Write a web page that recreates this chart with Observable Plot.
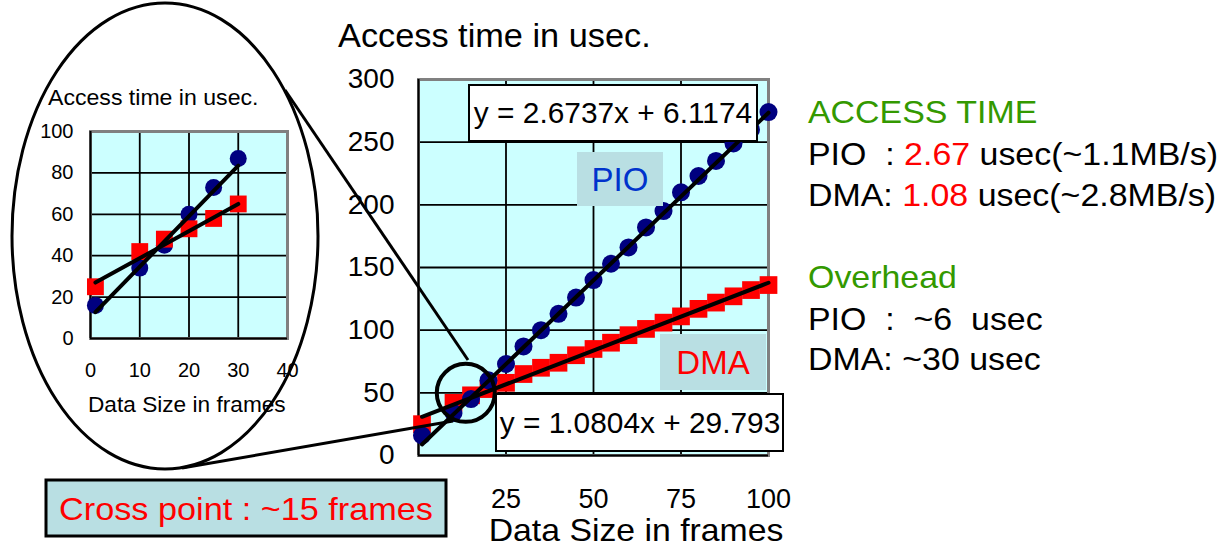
<!DOCTYPE html>
<html>
<head>
<meta charset="utf-8">
<script src="https://cdn.jsdelivr.net/npm/d3@7"></script>
<script src="https://cdn.jsdelivr.net/npm/@observablehq/plot@0.6"></script>
<style>
  html, body { margin: 0; padding: 0; background: #ffffff; }
  #root { position: relative; width: 1225px; height: 552px; overflow: hidden; background: #ffffff; font-family: "Liberation Sans", Arial, sans-serif; }
  #root > svg { position: absolute; left: 0; top: 0; }
</style>
</head>
<body>
<div id="root"></div>
<script>
// ---------------- data ----------------
const frames  = [1, 10, 15, 20, 25, 30, 35, 40, 45, 50, 55, 60, 65, 70, 75, 80, 85, 90, 95, 100];
const pioTime = [16, 34, 45, 60, 73, 87, 100, 113, 126, 140, 153, 166, 182, 195, 210, 223, 235, 249, 260, 274];
const dmaTime = [25, 42, 48, 53, 58, 65, 70, 74, 80, 85, 90, 96, 101, 106, 111, 117, 122, 127, 132, 136];

// fitted trend lines as printed on the chart
const pioFit = {slope: 2.6737, intercept: 6.1174};
const dmaFit = {slope: 1.0804, intercept: 29.793};
// trend lines drawn in the zoomed inset
const insetPioTrend = [[1, 12.7], [30, 83.5]];
const insetDmaTrend = [[1, 27], [30, 65]];

const mainXTicks = [25, 50, 75, 100];   // the 0 label is hidden behind the cross-point box
const mainXGrid = [25, 50, 75];
const mainYTicks = [0, 50, 100, 150, 200, 250, 300];
const insetXTicks = [0, 10, 20, 30, 40];
const insetYTicks = [0, 20, 40, 60, 80, 100];
const insetMaxFrames = 30;

const crossPoint = {frames: 13.5, time: 50};

const yTitle = "Access time in usec.";
const xTitle = "Data Size in frames";
const pioEq = "y = 2.6737x + 6.1174";
const dmaEq = "y = 1.0804x + 29.793";

// ---------------- styles ----------------
const FONT = "'Liberation Sans', Arial, sans-serif";
const BG = "#ccffff";
const PIO_COLOR = "#000080";
const DMA_COLOR = "#ff0000";
const GREEN = "#339900";
const LABEL_BOX = "#b9dfe3";

const pio = frames.map((f, i) => ({frames: f, time: pioTime[i]}));
const dma = frames.map((f, i) => ({frames: f, time: dmaTime[i]}));
const fitLine = (fit) => [frames[0], frames[frames.length - 1]].map(f => ({frames: f, time: fit.intercept + fit.slope * f}));
const toPts = (arr) => arr.map(([f, t]) => ({frames: f, time: t}));

const root = document.getElementById("root");

// ---------------- main chart ----------------
const main = Plot.plot({
  width: 1225, height: 552,
  marginLeft: 418, marginRight: 457, marginTop: 79, marginBottom: 97,
  style: {fontFamily: FONT, fontSize: "28px", color: "#000", background: "transparent", overflow: "visible"},
  x: {domain: [0, 100], ticks: mainXTicks, tickSize: 0, tickPadding: 33, label: null},
  y: {domain: [0, 300], ticks: mainYTicks, tickSize: 0, tickPadding: 24, label: null},
  marks: [
    Plot.frame({fill: BG}),
    Plot.ruleY(mainYTicks.filter(d => d > 0 && d < 300), {stroke: "#000", strokeWidth: 1.8}),
    Plot.ruleX(mainXGrid, {stroke: "#000", strokeWidth: 1.8}),
    Plot.frame({stroke: "#808080", strokeWidth: 3}),
    Plot.ruleX([0], {stroke: "#000", strokeWidth: 2}),
    Plot.ruleY([0], {stroke: "#000", strokeWidth: 2}),
    Plot.dot(dma, {x: "frames", y: "time", symbol: "square", r: 10, fill: DMA_COLOR}),
    Plot.dot(pio, {x: "frames", y: "time", r: 9, fill: PIO_COLOR}),
    Plot.line(fitLine(pioFit), {x: "frames", y: "time", stroke: "#000", strokeWidth: 4}),
    Plot.line(fitLine(dmaFit), {x: "frames", y: "time", stroke: "#000", strokeWidth: 4}),
    Plot.dot([crossPoint], {x: "frames", y: "time", r: 29, stroke: "#000", strokeWidth: 4, fill: "none"})
  ]
});
d3.select(main).selectAll("[aria-label='x-axis tick label'] text, g[aria-label='x-axis'] text").style("font-size", "27px");
root.appendChild(main);

// ---------------- inset (zoom) chart ----------------
const pioIn = pio.filter(d => d.frames <= insetMaxFrames);
const dmaIn = dma.filter(d => d.frames <= insetMaxFrames);
const inset = Plot.plot({
  width: 330, height: 430,
  marginLeft: 90, marginRight: 43, marginTop: 131, marginBottom: 92,
  style: {fontFamily: FONT, fontSize: "20px", color: "#000", background: "transparent", overflow: "visible"},
  x: {domain: [0, 40], ticks: insetXTicks, tickSize: 0, tickPadding: 24, label: null},
  y: {domain: [0, 100], ticks: insetYTicks, tickSize: 0, tickPadding: 17, label: null},
  marks: [
    Plot.frame({fill: BG}),
    Plot.ruleY(insetYTicks.filter(d => d > 0 && d < 100), {stroke: "#000", strokeWidth: 1.8}),
    Plot.ruleX(insetXTicks.filter(d => d > 0 && d < 40), {stroke: "#000", strokeWidth: 1.8}),
    Plot.frame({stroke: "#808080", strokeWidth: 3}),
    Plot.ruleX([0], {stroke: "#000", strokeWidth: 2}),
    Plot.ruleY([0], {stroke: "#000", strokeWidth: 2}),
    Plot.dot(pioIn, {x: "frames", y: "time", r: 8.5, fill: PIO_COLOR}),
    Plot.dot(dmaIn, {x: "frames", y: "time", symbol: "square", r: 9.5, fill: DMA_COLOR}),
    Plot.line(toPts(insetPioTrend), {x: "frames", y: "time", stroke: "#000", strokeWidth: 4}),
    Plot.line(toPts(insetDmaTrend), {x: "frames", y: "time", stroke: "#000", strokeWidth: 4})
  ]
});
root.appendChild(inset);

// ---------------- annotation overlay ----------------
const svg = d3.create("svg").attr("width", 1225).attr("height", 552)
  .style("font-family", FONT).style("overflow", "visible");

// zoom ellipse and connectors
svg.append("ellipse").attr("cx", 165).attr("cy", 236).attr("rx", 153).attr("ry", 233)
  .attr("fill", "none").attr("stroke", "#000").attr("stroke-width", 3);
svg.append("line").attr("x1", 285).attr("y1", 90).attr("x2", 468).attr("y2", 360)
  .attr("stroke", "#000").attr("stroke-width", 3);
svg.append("line").attr("x1", 182).attr("y1", 468).attr("x2", 453).attr("y2", 421)
  .attr("stroke", "#000").attr("stroke-width", 3);

function text(x, y, str, size, opts = {}) {
  const sx = opts.sx || 1;
  const t = svg.append("text")
    .attr("transform", `translate(${x},${y}) scale(${sx},1)`)
    .style("font-size", size + "px").style("white-space", "pre")
    .attr("fill", opts.fill || "#000")
    .attr("text-anchor", opts.anchor || "start");
  t.text(str);
  return t;
}
function box(x, y, w, h, fill, stroke, sw) {
  svg.append("rect").attr("x", x).attr("y", y).attr("width", w).attr("height", h)
    .attr("fill", fill).attr("stroke", stroke || "none").attr("stroke-width", sw || 0);
}

// titles
text(338, 47, yTitle, 33, {sx: 1.04});
text(636, 541, xTitle, 31, {anchor: "middle", sx: 1.09});
text(48, 105, yTitle, 22, {sx: 1.05});
text(88, 412, xTitle, 22, {sx: 1.03});

// series label boxes
box(577, 152, 86, 54, LABEL_BOX);
text(620, 191, "PIO", 33, {anchor: "middle", fill: "#0033cc"});
box(660, 334, 106, 56, LABEL_BOX);
text(713, 374, "DMA", 33, {anchor: "middle", fill: DMA_COLOR});

// equation boxes
box(469, 85, 288, 56, "#ffffff", "#000", 2);
text(613, 123, pioEq, 29, {anchor: "middle", sx: 1.03});
box(496, 394, 287, 57, "#ffffff", "#000", 2);
text(640, 433, dmaEq, 29, {anchor: "middle", sx: 1.03});

// cross point box
box(46, 480, 400, 56, LABEL_BOX, "#000", 3);
text(246, 520, "Cross point : ~15 frames", 32, {anchor: "middle", fill: DMA_COLOR, sx: 1.07});

// right-hand summary
const RX = 808, RS = 32, RSX = 1.06;
text(RX, 123, "ACCESS TIME", RS, {fill: GREEN, sx: RSX});
let t = text(RX, 165, "PIO  : ", RS, {sx: RSX});
t.append("tspan").attr("fill", DMA_COLOR).text("2.67");
t.append("tspan").text(" usec(~1.1MB/s)");
t = text(RX, 206, "DMA: ", RS, {sx: RSX});
t.append("tspan").attr("fill", DMA_COLOR).text("1.08");
t.append("tspan").text(" usec(~2.8MB/s)");
text(RX, 288, "Overhead", RS, {fill: GREEN, sx: RSX});
text(RX, 330, "PIO  :  ~6  usec", RS, {sx: RSX});
text(RX, 370, "DMA: ~30 usec", RS, {sx: RSX});

root.appendChild(svg.node());
</script>
</body>
</html>
